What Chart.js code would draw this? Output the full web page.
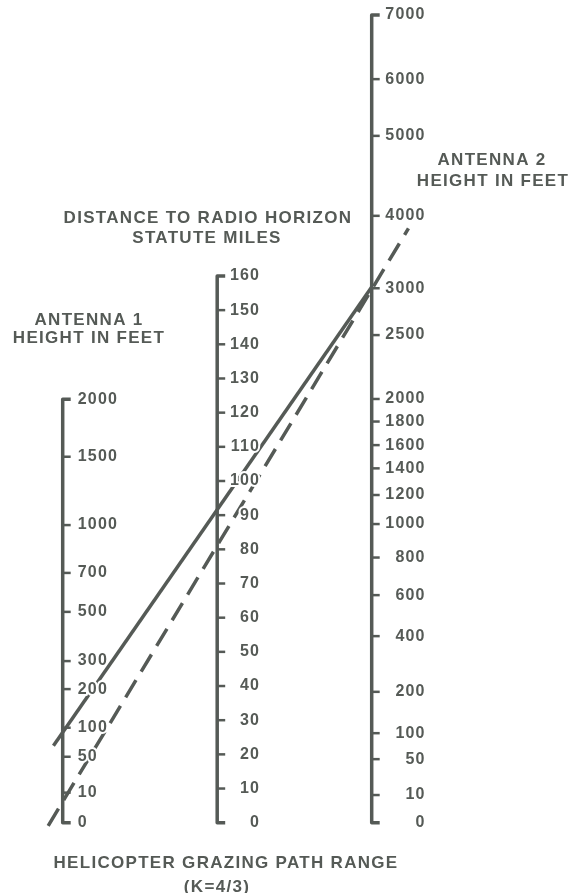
<!DOCTYPE html>
<html>
<head>
<meta charset="utf-8">
<title>Helicopter grazing path range</title>
<script src="https://cdn.jsdelivr.net/npm/chart.js@4.4.1/dist/chart.umd.min.js"></script>
<style>
  html, body { margin: 0; padding: 0; background: #fff; }
  canvas { display: block; }
</style>
</head>
<body>
<canvas id="nomoChart" width="571" height="893"></canvas>
<script>
// Distance scale, statute miles (linear)
const distanceTicks = [0, 10, 20, 30, 40, 50, 60, 70, 80, 90, 100, 110, 120, 130, 140, 150, 160];

// Antenna scales, feet. "Level" = the mile-scale reading level with each graduation
const antenna1Ticks = [0, 10, 50, 100, 200, 300, 500, 700, 1000, 1500, 2000];
const antenna1Level = [0, 8.8, 19.3, 27.8, 39.1, 47.3, 61.7, 73.1, 87.1, 107.1, 123.9];

const antenna2Ticks = [0, 10, 50, 100, 200, 400, 600, 800, 1000, 1200, 1400, 1600, 1800, 2000, 2500, 3000, 4000, 5000, 6000, 7000];
const antenna2Level = [0, 8.1, 18.6, 26.2, 38.3, 54.6, 66.6, 77.6, 87.4, 95.9, 103.7, 110.5, 117.4, 124.0, 142.7, 156.4, 177.6, 201.0, 217.6, 236.4];

// where each scale stands across the chart: antenna 1 = 0, antenna 2 = 1
const scalePlace = [0, 0.5, 1];

// example path lines, end points as [across, mile level]
const solidPath = [[-0.03, 22.5], [1.0, 156.8]];
const dashedPath = [[-0.047, -0.9], [1.119, 173.9]];

const ink = '#555a56';
const tickFont = 'bold 16px "Liberation Sans", Arial, sans-serif';
const titleFont = 'bold 17px "Liberation Sans", Arial, sans-serif';

const toPoints = pts => pts.map(p => ({ x: p[0], y: p[1] }));

const scaleDraw = {
    id: 'scaleDraw',
    afterDatasetsDraw(chart) {
        const { ctx, scales: { x, y } } = chart;
        const scales = [
            { at: scalePlace[0], values: antenna1Ticks, levels: antenna1Level, align: 'left', dx: 15 },
            { at: scalePlace[1], values: distanceTicks, levels: distanceTicks, align: 'right', dx: 43 },
            { at: scalePlace[2], values: antenna2Ticks, levels: antenna2Level, align: 'right', dx: 54 }
        ];
        ctx.save();
        ctx.strokeStyle = ink;
        ctx.lineJoin = 'round';
        ctx.lineCap = 'butt';
        scales.forEach(s => {
            const px = x.getPixelForValue(s.at);
            const top = y.getPixelForValue(s.levels[s.levels.length - 1]);
            const bottom = y.getPixelForValue(s.levels[0]);
            // spine with the end hooks
            ctx.lineWidth = 3.5;
            ctx.beginPath();
            ctx.moveTo(px + 8, top);
            ctx.lineTo(px, top);
            ctx.lineTo(px, bottom);
            ctx.lineTo(px + 8, bottom);
            ctx.stroke();
            // graduations
            ctx.lineWidth = 2.5;
            s.levels.forEach((lv, i) => {
                if (i === 0 || i === s.levels.length - 1) return;
                const py = y.getPixelForValue(lv);
                ctx.beginPath();
                ctx.moveTo(px, py);
                ctx.lineTo(px + 8, py);
                ctx.stroke();
            });
        });
        // labels, with a white knock-out like the print
        ctx.font = tickFont;
        ctx.letterSpacing = '1.2px';
        ctx.textBaseline = 'middle';
        scales.forEach(s => {
            const px = x.getPixelForValue(s.at);
            ctx.textAlign = s.align;
            s.values.forEach((v, i) => {
                const py = y.getPixelForValue(s.levels[i]);
                ctx.lineWidth = 4;
                ctx.strokeStyle = '#fff';
                ctx.strokeText(String(v), px + s.dx, py);
                ctx.fillStyle = ink;
                ctx.fillText(String(v), px + s.dx, py);
            });
        });
        ctx.restore();
    },
    afterDraw(chart) {
        const ctx = chart.ctx;
        const titles = [
            ['DISTANCE TO RADIO HORIZON', 208, 218],
            ['STATUTE MILES', 207, 238],
            ['ANTENNA 1', 89, 320],
            ['HEIGHT IN FEET', 89, 338],
            ['ANTENNA 2', 492, 160],
            ['HEIGHT IN FEET', 493, 181],
            ['HELICOPTER GRAZING PATH RANGE', 226, 863],
            ['(K=4/3)', 217, 887]
        ];
        ctx.save();
        ctx.font = titleFont;
        ctx.letterSpacing = '1.3px';
        ctx.textAlign = 'center';
        ctx.textBaseline = 'middle';
        ctx.fillStyle = ink;
        titles.forEach(t => ctx.fillText(t[0], t[1], t[2]));
        ctx.restore();
    }
};

const ctx = document.getElementById('nomoChart').getContext('2d');

new Chart(ctx, {
    type: 'scatter',
    data: {
        datasets: [
            {
                label: 'solid',
                data: toPoints(solidPath),
                showLine: true,
                borderColor: ink,
                borderWidth: 3.5,
                pointRadius: 0
            },
            {
                label: 'dashed',
                data: toPoints(dashedPath),
                showLine: true,
                borderColor: ink,
                borderWidth: 3.5,
                borderDash: [20, 10],
                pointRadius: 0
            }
        ]
    },
    options: {
        responsive: false,
        animation: false,
        devicePixelRatio: 1,
        layout: { padding: 0 },
        plugins: {
            legend: { display: false },
            tooltip: { enabled: false }
        },
        scales: {
            x: { type: 'linear', display: false, min: -0.2029, max: 1.645 },
            y: { type: 'linear', display: false, min: -20.57, max: 240.76 }
        }
    },
    plugins: [scaleDraw]
});
</script>
</body>
</html>
